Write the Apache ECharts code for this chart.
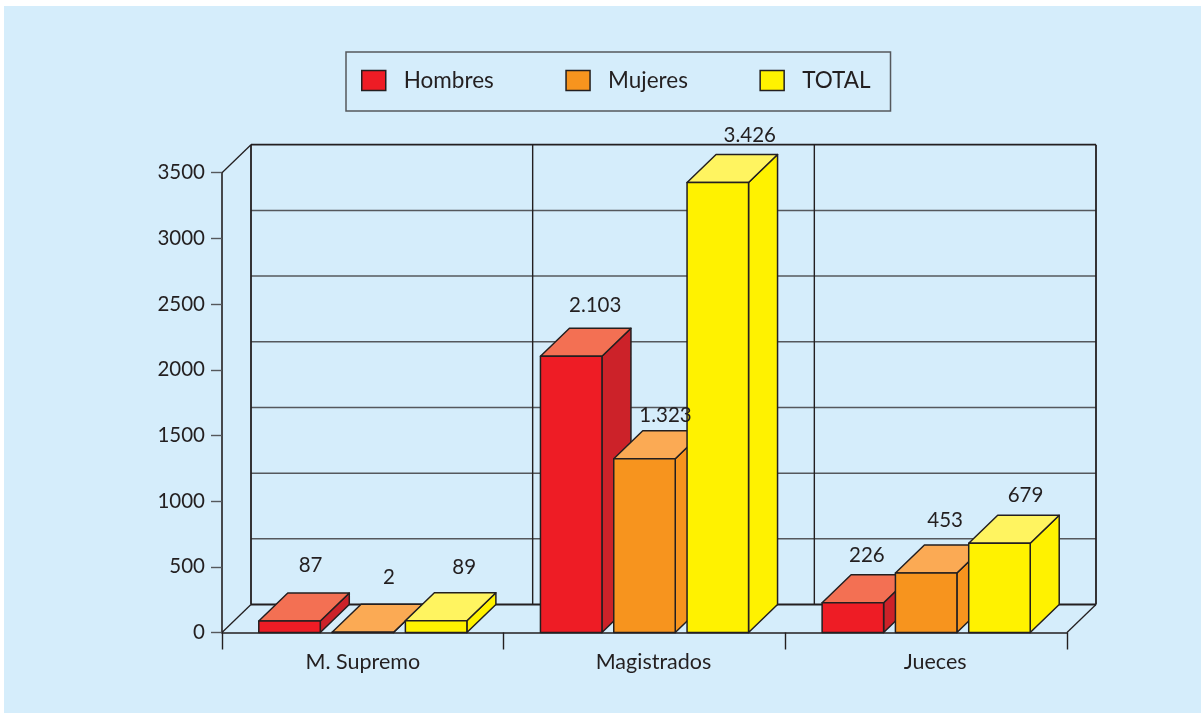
<!DOCTYPE html>
<html><head><meta charset="utf-8">
<style>html,body{margin:0;padding:0;background:#fff}#c{width:1201px;height:713px}</style>
<script src="https://cdn.jsdelivr.net/npm/echarts@6/dist/echarts.min.js"></script>
</head><body><div id="c"></div>
<script>
const categories = ['M. Supremo', 'Magistrados', 'Jueces'];
const seriesNames = ['Hombres', 'Mujeres', 'TOTAL'];
const hombres = [87, 2103, 226];
const mujeres = [2, 1323, 453];
const total = [89, 3426, 679];
const yTicks = [0, 500, 1000, 1500, 2000, 2500, 3000, 3500];

const INK = '#231f20', GRID = '#55585c', FONT = 'Lato, "Open Sans", sans-serif';
const DX = 29, DY = 28, BAR_W = 61.5, BAR_STEP = 73.3;
const FRONT = ['#ee1c25', '#f7941e', '#fff200'];
const TOP = ['#f37053', '#fbaa54', '#fff460'];
const SIDE = ['#cc2229', '#f7941e', '#fff200'];
// label placement relative to the front face of each bar: [series][category]
const NUDGE = [[[21,-56],[24,-51],[14,-47]], [[26,-55],[21,-43],[19,-53]], [[28,-53],[32,-47],[26,-48]]];

const chart = echarts.init(document.getElementById('c'), null, {renderer: 'canvas'});
const allValues = [hombres, mujeres, total];

function barRenderer(s) {
  return function (params, api) {
    const c = api.value(0), v = api.value(1);
    const top = api.coord([c, v]), base = api.coord([c, 0]);
    const xL = top[0] + (s - 1) * BAR_STEP - BAR_W / 2, xR = xL + BAR_W;
    const yT = top[1], yB = base[1];
    const st = {stroke: INK, lineWidth: 1.5, lineJoin: 'round'};
    return {type: 'group', children: [
      {type: 'polygon', shape: {points: [[xR, yT], [xR + DX, yT - DY], [xR + DX, yB - DY], [xR, yB]]},
        style: Object.assign({fill: SIDE[s]}, st)},
      {type: 'polygon', shape: {points: [[xL, yT], [xL + DX, yT - DY], [xR + DX, yT - DY], [xR, yT]]},
        style: Object.assign({fill: TOP[s]}, st)},
      {type: 'rect', shape: {x: xL, y: yT, width: BAR_W, height: yB - yT},
        style: Object.assign({fill: FRONT[s]}, st)}
    ]};
  };
}

function fmt(n) { return String(n).replace(/\B(?=(\d{3})+$)/g, '.'); }

const labelData = [];
allValues.forEach((arr, s) => arr.forEach((v, c) => labelData.push([c, v, s])));

const series = seriesNames.map((name, s) => ({
  name, type: 'custom', z: 3, color: FRONT[s], itemStyle: {color: FRONT[s]},
  renderItem: barRenderer(s), encode: {x: 0, y: 1},
  data: allValues[s].map((v, c) => [c, v]), silent: true, animation: false
}));

// back wall horizontal lines
series.push({
  type: 'custom', z: 1, silent: true, animation: false, encode: {y: 0},
  data: yTicks.map(v => [v]),
  renderItem(params, api) {
    const v = api.value(0), cs = params.coordSys;
    const y = api.coord([0, v])[1] - DY;
    const strong = v === 0 || v === 3500;
    return {type: 'line', shape: {x1: cs.x + DX, y1: y, x2: cs.x + cs.width + DX, y2: y},
      style: {stroke: strong ? INK : GRID, lineWidth: strong ? 1.8 : 1.5}};
  }
});
// back wall verticals at category boundaries + floor/side diagonals
series.push({
  type: 'custom', z: 1, silent: true, animation: false,
  data: [0, 1, 2, 3].map(i => [i]),
  renderItem(params, api) {
    const i = api.value(0), cs = params.coordSys;
    const x = cs.x + i * cs.width / 3 + DX;
    const yB = cs.y + cs.height - DY, yT = cs.y - DY;
    const kids = [{type: 'line', shape: {x1: x, y1: yT, x2: x, y2: yB},
      style: {stroke: INK, lineWidth: (i === 0 || i === 3) ? 1.8 : 1.4}}];
    const diag = (x0, y0) => ({type: 'line', shape: {x1: x0, y1: y0, x2: x0 + DX, y2: y0 - DY},
      style: {stroke: INK, lineWidth: 1.3}});
    if (i === 0) { kids.push(diag(cs.x, cs.y + cs.height), diag(cs.x, cs.y)); }
    if (i === 3) { kids.push(diag(cs.x + cs.width, cs.y + cs.height)); }
    return {type: 'group', children: kids};
  }
});
// value labels, on top of all bars
series.push({
  type: 'custom', z: 6, silent: true, animation: false, encode: {x: 0, y: 1},
  data: labelData,
  renderItem(params, api) {
    const c = api.value(0), v = api.value(1), s = api.value(2);
    const p = api.coord([c, v]);
    const n = NUDGE[s][c];
    return {type: 'text', style: {
      x: p[0] + (s - 1) * BAR_STEP + n[0], y: p[1] + n[1],
      text: fmt(v), fill: INK, align: 'center', verticalAlign: 'middle',
      font: '20.5px ' + FONT
    }};
  }
});

chart.setOption({
  animation: false,
  backgroundColor: '#fff',
  graphic: [{type: 'rect', z: -10, silent: true, shape: {x: 4, y: 6, width: 1197, height: 707},
    style: {fill: '#d5edfb'}}],
  legend: {
    data: seriesNames, left: 346, top: 52,
    padding: [17, 20, 19, 15],
    borderColor: GRID, borderWidth: 1.5,
    itemWidth: 24, itemHeight: 20, itemGap: 71.5, icon: 'rect',
    itemStyle: {borderColor: INK, borderWidth: 1.5},
    textStyle: {color: INK, fontFamily: FONT, fontSize: 22.5, padding: [0, 0, 0, 13]},
    selectedMode: false
  },
  grid: {left: 222, right: 134, top: 172.7, bottom: 80.5, containLabel: false},
  xAxis: {
    type: 'category',
    data: [categories[0], {value: categories[1], textStyle: {padding: [0, 0, 0, 18]}},
      {value: categories[2], textStyle: {padding: [0, 0, 0, 18]}}],
    axisLine: {show: true, lineStyle: {color: INK, width: 1.6}},
    axisTick: {show: true, alignWithLabel: false, length: 17, lineStyle: {color: INK, width: 1.4}},
    axisLabel: {color: INK, fontFamily: FONT, fontSize: 21.5, margin: 18.5},
    splitLine: {show: false}
  },
  yAxis: {
    type: 'value', min: 0, max: 3500, interval: 500,
    axisLine: {show: true, lineStyle: {color: INK, width: 1.6}},
    axisTick: {show: true, length: 11, lineStyle: {color: GRID, width: 1.4}},
    axisLabel: {color: INK, fontFamily: FONT, fontSize: 20.5, margin: 17, formatter: v => String(v)},
    splitLine: {show: false}
  },
  series
});
</script></body></html>
